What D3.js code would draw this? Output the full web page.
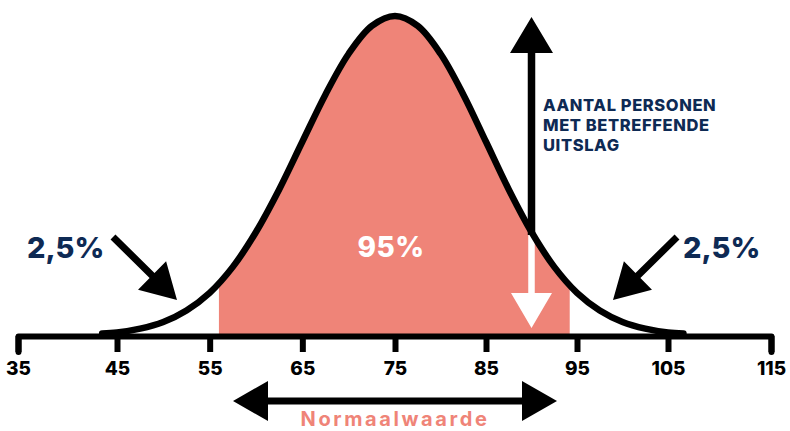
<!DOCTYPE html>
<html><head><meta charset="utf-8">
<script src="https://cdn.jsdelivr.net/npm/d3@7"></script>
<style>
html,body{margin:0;padding:0;background:#fff;}
svg{display:block;font-family:Inter,"Open Sans",sans-serif;}
</style></head>
<body><svg id="c" width="790" height="431"></svg>
<script>
// ---- data ----
const tickValues = [35, 45, 55, 65, 75, 85, 95, 105, 115];
const curveX = [43.5,45,47.5,50,52.5,55,57.5,60,62.5,65,67.5,70,72.5,75,77.5,80,82.5,85,87.5,90,92.5,95,97.5,100,102.5,105,106.5];
const curveH = [0.008,0.011,0.023,0.044,0.080,0.135,0.216,0.325,0.458,0.607,0.755,0.882,0.969,1.000,0.969,0.882,0.755,0.607,0.458,0.325,0.216,0.135,0.080,0.044,0.023,0.011,0.008];
const normalRange = [56, 94.2];
const markerValue = 90;
const labels = {
  tail: "2,5%", center: "95%", range: "Normaalwaarde",
  yLabel: ["AANTAL PERSONEN", "MET BETREFFENDE", "UITSLAG"]
};

const NAVY = "#0e2a54", SALMON = "#ef8478";
const svg = d3.select("#c");
const x = d3.scaleLinear().domain([35, 45, 75, 105, 115]).range([18, 117, 395, 668, 771]);
const y = d3.scaleLinear().domain([0, 1]).range([336, 16]);
const pts = curveX.map((v, i) => [v, curveH[i]]);

// clip for shaded 95% area
svg.append("clipPath").attr("id", "rng").append("rect")
  .attr("x", x(normalRange[0])).attr("y", 0)
  .attr("width", x(normalRange[1]) - x(normalRange[0])).attr("height", 431);

const area = d3.area().x(d => x(d[0])).y0(y(0)).y1(d => y(d[1])).curve(d3.curveCatmullRom);
svg.append("path").datum(pts).attr("d", area).attr("fill", SALMON).attr("clip-path", "url(#rng)");

function arrowPoly(x1, y1, x2, y2, w, L, h) {
  const dx = x2 - x1, dy = y2 - y1, len = Math.hypot(dx, dy);
  const ux = dx / len, uy = dy / len, nx = -uy, ny = ux;
  const bx = x2 - ux * L, by = y2 - uy * L;
  return [[x1 + nx * w / 2, y1 + ny * w / 2], [bx + nx * w / 2, by + ny * w / 2], [bx + nx * h, by + ny * h],
          [x2, y2], [bx - nx * h, by - ny * h], [bx - nx * w / 2, by - ny * w / 2], [x1 - nx * w / 2, y1 - ny * w / 2]];
}
function drawArrow(g, x1, y1, x2, y2, w, L, h, fill) {
  g.append("polygon").attr("points", arrowPoly(x1, y1, x2, y2, w, L, h).map(p => p.join(",")).join(" ")).attr("fill", fill);
}

// marker arrow at value 90
const mx = x(markerValue);
const my = y(curveH[curveX.indexOf(markerValue)]);
drawArrow(svg, mx, my, mx, 328, 6.5, 35, 20.5, "#fff");

// curve
const line = d3.line().x(d => x(d[0])).y(d => y(d[1])).curve(d3.curveCatmullRom);
svg.append("path").datum(pts).attr("d", line).attr("fill", "none").attr("stroke", "#000")
  .attr("stroke-width", 6.5).attr("stroke-linecap", "round");

drawArrow(svg, mx, my + 3, mx, 17, 7.5, 36, 21.5, "#000");

// axis
const axis = d3.axisBottom(x).tickValues(tickValues).tickSizeInner(16).tickSizeOuter(16).tickFormat(d3.format("d"));
const ag = svg.append("g").attr("transform", "translate(0,336)").call(axis);
ag.select(".domain").attr("stroke", "#000").attr("stroke-width", 6).attr("stroke-linejoin", "round").attr("stroke-linecap", "round");
ag.selectAll(".tick line").attr("stroke", "#000").attr("stroke-width", 6);
ag.selectAll(".tick text").attr("y", 39).attr("dy", null).attr("fill", "#000")
  .style("font-family", "Inter").style("font-size", "19px").style("font-weight", 800);

// tail arrows
drawArrow(svg, 113, 237, 177, 300, 7, 35, 20, "#000");
drawArrow(svg, 677, 237, 613, 300, 7, 35, 20, "#000");

// texts
svg.append("text").attr("x", 27).attr("y", 258).text(labels.tail)
  .attr("fill", NAVY).style("font-size", "29px").style("font-weight", 800);
svg.append("text").attr("x", 683).attr("y", 258).text(labels.tail)
  .attr("fill", NAVY).style("font-size", "29px").style("font-weight", 800);
svg.append("text").attr("x", 391).attr("y", 257).attr("text-anchor", "middle").text(labels.center)
  .attr("fill", "#fff").style("font-size", "28px").style("font-weight", 800).style("letter-spacing", "0.5px");

const yl = svg.append("text").attr("fill", NAVY).style("font-size", "16.5px").style("font-weight", 800).style("letter-spacing", "0.6px");
labels.yLabel.forEach((t, i) => yl.append("tspan").attr("x", 543).attr("y", 111 + i * 20).text(t));

// normal range double arrow
const rl = 233, rr = 557, ry = 401;
svg.append("polygon").attr("fill", "#000").attr("points", [
  [rl, ry], [rl + 35, ry - 20], [rl + 35, ry - 3.5], [rr - 35, ry - 3.5], [rr - 35, ry - 20], [rr, ry],
  [rr - 35, ry + 20], [rr - 35, ry + 3.5], [rl + 35, ry + 3.5], [rl + 35, ry + 20]].map(p => p.join(",")).join(" "));
svg.append("text").attr("x", 395).attr("y", 426).attr("text-anchor", "middle").text(labels.range)
  .attr("fill", SALMON).style("font-size", "20px").style("font-weight", 700).style("letter-spacing", "2.6px");
</script></body></html>
